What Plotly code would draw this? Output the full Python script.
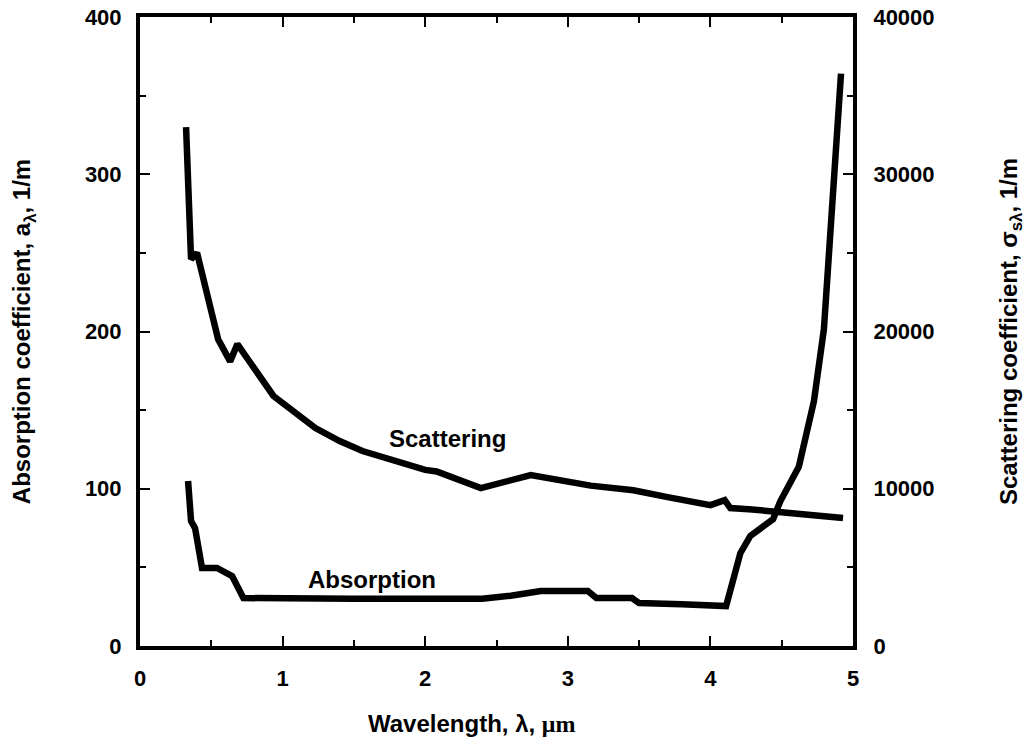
import plotly.graph_objects as go

# Absorption coefficient (left axis, 1/m)
abs_wl = [0.337, 0.358, 0.386, 0.435, 0.54, 0.646, 0.725, 1.0, 1.5, 2.0, 2.4, 2.6, 2.81, 3.14, 3.2, 3.45, 3.5, 3.8, 4.11,
          4.21, 4.28, 4.44, 4.49, 4.62, 4.726, 4.796, 4.86, 4.916]
abs_val = [105, 79.5, 75, 49.6, 49.6, 44.5, 30.5, 30, 30, 30, 30, 32, 35, 35, 30.5, 30.5, 27.3, 26.5, 25.4,
           59, 70, 80.7, 92, 114, 155.7, 201.5, 283, 364]

# Scattering coefficient (right axis, 1/m)
sca_wl = [0.323, 0.358, 0.40, 0.548, 0.632, 0.683, 0.936, 1.12, 1.23, 1.40, 1.44, 1.56, 2.0, 2.08, 2.39, 2.74,
          3.16, 3.46, 3.70, 4.0, 4.10, 4.14, 4.27, 4.93]
sca_val = [33000, 24600, 25000, 19500, 18100, 19200, 15900, 14600, 13860, 13030, 12900, 12400, 11200, 11100,
           10040, 10870, 10200, 9900, 9470, 8960, 9280, 8770, 8700, 8140]

x_ticks = [0, 1, 2, 3, 4, 5]
y_ticks = [0, 100, 200, 300, 400]
y2_ticks = [0, 10000, 20000, 30000, 40000]

FONT = "Liberation Sans, Arial, sans-serif"
font_tick = dict(family=FONT, size=22, color="black", weight="bold")
font_title = dict(family=FONT, size=24, color="black", weight="bold")

fig = go.Figure()
fig.add_trace(go.Scatter(x=abs_wl, y=abs_val, mode="lines", line=dict(color="black", width=6.5),
                         name="Absorption", yaxis="y"))
fig.add_trace(go.Scatter(x=sca_wl, y=sca_val, mode="lines", line=dict(color="black", width=6.5),
                         name="Scattering", yaxis="y2"))

fig.add_annotation(x=2.156, y=132, xref="x", yref="y", text="Scattering", showarrow=False,
                   font=dict(family=FONT, size=24, color="black", weight="bold"))
fig.add_annotation(x=1.63, y=42.6, xref="x", yref="y", text="Absorption", showarrow=False,
                   font=dict(family=FONT, size=24, color="black", weight="bold"))
# x-axis title (placed slightly left of centre, as in the reference)
fig.add_annotation(x=0.465, y=-0.124, xref="paper", yref="paper", showarrow=False,
                   text="Wavelength, λ, <span style='font-family:Liberation Serif'>μm</span>",
                   font=font_title, xanchor="center", yanchor="middle")

axis_common = dict(showline=True, linecolor="black", linewidth=4, ticks="inside", ticklen=10,
                   tickwidth=2, tickcolor="black", showgrid=False, zeroline=False, tickfont=font_tick,
                   automargin=False)

fig.update_layout(
    width=1029, height=740,
    margin=dict(l=140, r=176, t=17, b=94),
    plot_bgcolor="white", paper_bgcolor="white",
    showlegend=False,
    xaxis=dict(range=[0, 5], tickvals=x_ticks, ticktext=[str(v) for v in x_ticks], mirror="ticks",
               minor=dict(ticks="inside", dtick=0.5, ticklen=6, tickcolor="black", tickwidth=2),
               ticklabelstandoff=10,
               **axis_common),
    yaxis=dict(range=[0, 400], tickvals=y_ticks, ticktext=[str(v) for v in y_ticks],
               minor=dict(ticks="inside", dtick=50, ticklen=6, tickcolor="black", tickwidth=2),
               ticklabelstandoff=10,
               title=dict(text="Absorption coefficient, a<sub>λ</sub>, 1/m", font=font_title, standoff=48),
               **axis_common),
    yaxis2=dict(range=[0, 40000], overlaying="y", side="right", tickvals=y2_ticks,
                ticktext=[str(v) for v in y2_ticks],
                minor=dict(ticks="inside", dtick=5000, ticklen=6, tickcolor="black", tickwidth=2),
                ticklabelstandoff=12,
                title=dict(text="Scattering coefficient, σ<sub>sλ</sub>, 1/m", font=font_title, standoff=68),
                **axis_common),
)

fig.write_html("out.html")
